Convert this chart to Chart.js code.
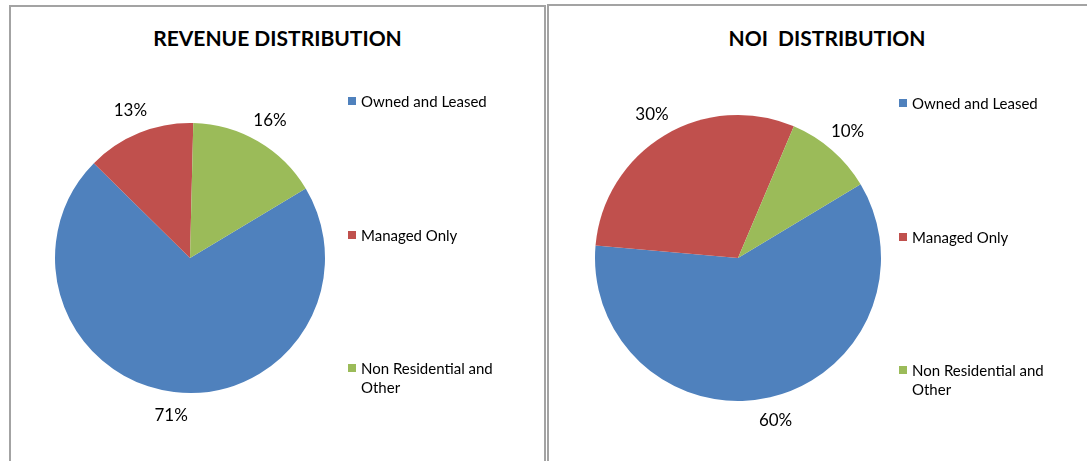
<!DOCTYPE html>
<html>
<head>
<meta charset="utf-8">
<script src="https://cdn.jsdelivr.net/npm/chart.js@4.4.1/dist/chart.umd.min.js"></script>
<style>
  html, body { margin: 0; padding: 0; background: #fff; overflow: hidden; }
  body { width: 1087px; height: 461px; position: relative; font-family: Lato, "Open Sans", sans-serif; color: #000; }
  .panel { position: absolute; border: 2px solid #a3a3a3; box-sizing: border-box; background: #fff; }
  .title { position: absolute; left: 0; right: 0; text-align: center; font-weight: bold; font-size: 21px; white-space: pre; }
  .chartBox { position: absolute; }
  .legend { position: absolute; font-size: 15px; line-height: 19px; }
  .legend .item { position: absolute; left: 0; white-space: nowrap; }
  .legend .sw { position: absolute; left: 0; top: 5px; width: 8px; height: 8px; }
  .legend .txt { position: absolute; left: 13px; top: 0; }
</style>
</head>
<body>

<div class="panel" style="left:9px; top:5px; width:537px; height:480px;">
  <div class="title" style="top:18px;">REVENUE DISTRIBUTION</div>
</div>
<div class="panel" style="left:547px; top:4px; width:560px; height:480px;">
  <div class="title" style="top:19px;">NOI  DISTRIBUTION</div>
</div>

<div class="chartBox" style="left:15px; top:83px; width:350px; height:350px;"><canvas id="revChart"></canvas></div>
<div class="chartBox" style="left:555px; top:75px; width:366px; height:366px;"><canvas id="noiChart"></canvas></div>

<div class="legend" id="revLegend" style="left:348px; top:0;"></div>
<div class="legend" id="noiLegend" style="left:899px; top:0;"></div>

<script>
// ---- data ----
const categories = ['Owned and Leased', 'Managed Only', 'Non Residential and Other'];
const revenueShare = [71, 13, 16];
const noiShare = [60, 30, 10];
const sliceColors = ['#4F81BD', '#C0504D', '#9BBB59'];

// percent labels outside the slices
const outsideLabels = {
    id: 'outsideLabels',
    afterDatasetsDraw(chart) {
        const ctx = chart.ctx;
        const values = chart.data.datasets[0].data;
        ctx.save();
        ctx.font = '17px Lato, "Open Sans", sans-serif';
        ctx.fillStyle = '#000';
        ctx.textAlign = 'center';
        ctx.textBaseline = 'middle';
        chart.getDatasetMeta(0).data.forEach((arc, i) => {
            const mid = (arc.startAngle + arc.endAngle) / 2;
            const r = arc.outerRadius + 24;
            ctx.fillText(values[i] + '%', arc.x + Math.cos(mid) * r, arc.y + Math.sin(mid) * r);
        });
        ctx.restore();
    }
};

function makePie(id, values) {
    return new Chart(document.getElementById(id), {
        type: 'pie',
        data: {
            labels: categories,
            datasets: [{
                data: values,
                backgroundColor: sliceColors,
                borderWidth: 0
            }]
        },
        options: {
            responsive: true,
            maintainAspectRatio: false,
            animation: false,
            rotation: 59,   // angle of first slice
            layout: { padding: 40 },
            plugins: {
                legend: { display: false },
                tooltip: { enabled: false }
            }
        },
        plugins: [outsideLabels]
    });
}

// legend rows placed like the spreadsheet legend
function makeLegend(id, rows) {
    const box = document.getElementById(id);
    categories.forEach((name, i) => {
        const item = document.createElement('div');
        item.className = 'item';
        item.style.top = rows[i] + 'px';
        const words = name === 'Non Residential and Other' ? 'Non Residential and<br>Other' : name;
        item.innerHTML = '<span class="sw" style="background:' + sliceColors[i] + '"></span><span class="txt">' + words + '</span>';
        box.appendChild(item);
    });
}

makePie('revChart', revenueShare);
makePie('noiChart', noiShare);
makeLegend('revLegend', [92, 226, 359]);
makeLegend('noiLegend', [94, 228, 361]);
</script>
</body>
</html>
